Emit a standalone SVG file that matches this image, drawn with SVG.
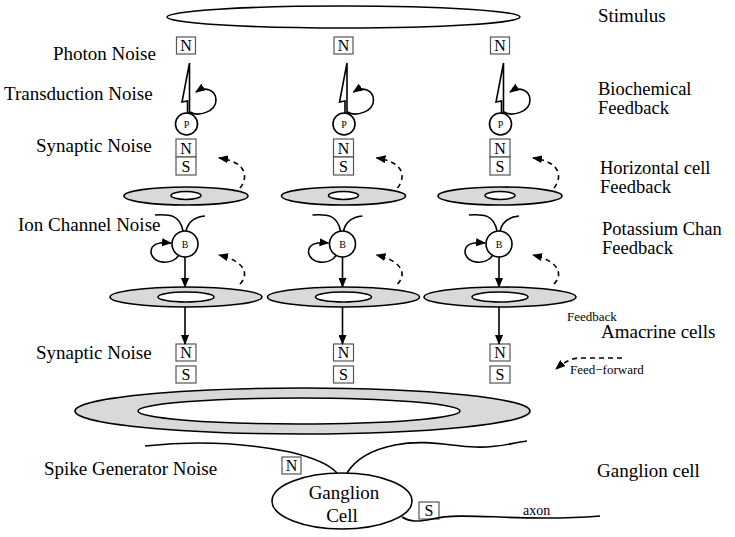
<svg xmlns="http://www.w3.org/2000/svg" width="735" height="537" viewBox="0 0 735 537">
<style>
.ln{fill:none;stroke:#000;stroke-width:1.6}
.dash{fill:none;stroke:#000;stroke-width:1.6;stroke-dasharray:5,4}
.ring{fill:#d9d9d9;stroke:#000;stroke-width:1.6}
.hole{fill:#fff;stroke:#000;stroke-width:1.6}
.box{fill:#fff;stroke:#555;stroke-width:1.2}
.cell{fill:#fff;stroke:#000;stroke-width:1.6}
.lbl{font-family:"Liberation Serif","Times New Roman",serif;font-size:19px;fill:#000}
.lbl2{font-family:"Liberation Serif","Times New Roman",serif;font-size:18.5px;fill:#000}
.sm{font-family:"Liberation Serif","Times New Roman",serif;font-size:13px;fill:#000}
.bx{font-family:"Liberation Serif","Times New Roman",serif;font-size:16px;fill:#000;text-anchor:middle}
.tiny{font-family:"Liberation Serif","Times New Roman",serif;font-size:10px;fill:#000;text-anchor:middle}
</style>
<defs>
<marker id="ah" markerUnits="userSpaceOnUse" markerWidth="10" markerHeight="8" refX="9" refY="4" orient="auto">
<path d="M0,0 L10,4 L0,8 Z" fill="#000"/>
</marker>
</defs>

<!-- Stimulus -->
<g id="stimulus"><ellipse cx="343.5" cy="17" rx="176.5" ry="11" class="cell"/></g>

<!-- Labels -->
<g id="labels">
<text class="lbl" x="53" y="60">Photon Noise</text>
<text class="lbl" x="4" y="100">Transduction Noise</text>
<text class="lbl" x="36" y="152">Synaptic Noise</text>
<text class="lbl" x="18" y="231">Ion Channel Noise</text>
<text class="lbl" x="36" y="359">Synaptic Noise</text>
<text class="lbl" x="44" y="475">Spike Generator Noise</text>
<text class="lbl" x="598" y="22">Stimulus</text>
<text class="lbl2" x="598" y="95">Biochemical</text>
<text class="lbl2" x="598" y="114">Feedback</text>
<text class="lbl2" x="600" y="174">Horizontal cell</text>
<text class="lbl2" x="600" y="193">Feedback</text>
<text class="lbl2" x="602" y="235">Potassium Chan</text>
<text class="lbl2" x="602" y="254">Feedback</text>
<text class="sm" x="567" y="321">Feedback</text>
<text class="lbl" x="601" y="338">Amacrine cells</text>
<text class="sm" x="570" y="374">Feed−forward</text>
<text class="lbl" x="597" y="477">Ganglion cell</text>
</g>

<!-- Column nodes -->
<g id="col1" transform="translate(186,0)">
<g id="n-photon-1"><rect class="box" x="-9.5" y="37" width="19" height="17"/><text class="bx" x="0" y="51">N</text></g>
<g id="cone-1"><path class="ln" d="M3.5,63 L-4,102 L1.5,101 L1.5,113 M3.5,63 L3.5,113"/></g>
<g id="p-1"><circle class="cell" cx="0.5" cy="124" r="11"/><text class="tiny" x="0.5" y="128">P</text></g>
<g id="ns-1"><rect class="box" x="-10" y="139" width="20" height="18"/><rect class="box" x="-10" y="157" width="20" height="18"/><text class="bx" x="0" y="154">N</text><text class="bx" x="0" y="172">S</text></g>
<g id="hcell-1"><ellipse class="ring" cx="0" cy="196" rx="62" ry="9"/><ellipse class="hole" cx="0" cy="195.5" rx="15" ry="4"/></g>
<g id="b-1"><circle class="cell" cx="-1" cy="244" r="13"/><text class="tiny" x="-1" y="248">B</text></g>
<g id="bring-1"><ellipse class="ring" cx="0" cy="297" rx="76" ry="10"/><ellipse class="hole" cx="0" cy="297" rx="28" ry="5"/></g>
<g id="ns2-1"><rect class="box" x="-10" y="344" width="20" height="17"/><rect class="box" x="-10" y="366" width="20" height="17"/><text class="bx" x="0" y="358">N</text><text class="bx" x="0" y="380">S</text></g>
</g>

<g id="col2" transform="translate(343.5,0)">
<g id="n-photon-2"><rect class="box" x="-9.5" y="37" width="19" height="17"/><text class="bx" x="0" y="51">N</text></g>
<g id="cone-2"><path class="ln" d="M3.5,63 L-4,102 L1.5,101 L1.5,113 M3.5,63 L3.5,113"/></g>
<g id="p-2"><circle class="cell" cx="0.5" cy="124" r="11"/><text class="tiny" x="0.5" y="128">P</text></g>
<g id="ns-2"><rect class="box" x="-10" y="139" width="20" height="18"/><rect class="box" x="-10" y="157" width="20" height="18"/><text class="bx" x="0" y="154">N</text><text class="bx" x="0" y="172">S</text></g>
<g id="hcell-2"><ellipse class="ring" cx="0" cy="196" rx="62" ry="9"/><ellipse class="hole" cx="0" cy="195.5" rx="15" ry="4"/></g>
<g id="b-2"><circle class="cell" cx="-1" cy="244" r="13"/><text class="tiny" x="-1" y="248">B</text></g>
<g id="bring-2"><ellipse class="ring" cx="0" cy="297" rx="76" ry="10"/><ellipse class="hole" cx="0" cy="297" rx="28" ry="5"/></g>
<g id="ns2-2"><rect class="box" x="-10" y="344" width="20" height="17"/><rect class="box" x="-10" y="366" width="20" height="17"/><text class="bx" x="0" y="358">N</text><text class="bx" x="0" y="380">S</text></g>
</g>

<g id="col3" transform="translate(500,0)">
<g id="n-photon-3"><rect class="box" x="-9.5" y="37" width="19" height="17"/><text class="bx" x="0" y="51">N</text></g>
<g id="cone-3"><path class="ln" d="M3.5,63 L-4,102 L1.5,101 L1.5,113 M3.5,63 L3.5,113"/></g>
<g id="p-3"><circle class="cell" cx="0.5" cy="124" r="11"/><text class="tiny" x="0.5" y="128">P</text></g>
<g id="ns-3"><rect class="box" x="-10" y="139" width="20" height="18"/><rect class="box" x="-10" y="157" width="20" height="18"/><text class="bx" x="0" y="154">N</text><text class="bx" x="0" y="172">S</text></g>
<g id="hcell-3"><ellipse class="ring" cx="0" cy="196" rx="62" ry="9"/><ellipse class="hole" cx="0" cy="195.5" rx="15" ry="4"/></g>
<g id="b-3"><circle class="cell" cx="-1" cy="244" r="13"/><text class="tiny" x="-1" y="248">B</text></g>
<g id="bring-3"><ellipse class="ring" cx="0" cy="297" rx="76" ry="10"/><ellipse class="hole" cx="0" cy="297" rx="28" ry="5"/></g>
<g id="ns2-3"><rect class="box" x="-10" y="344" width="20" height="17"/><rect class="box" x="-10" y="366" width="20" height="17"/><text class="bx" x="0" y="358">N</text><text class="bx" x="0" y="380">S</text></g>
</g>

<!-- Amacrine ring -->
<g id="amacrine"><ellipse class="ring" cx="302.5" cy="411" rx="227.5" ry="23"/><ellipse class="hole" cx="299" cy="411" rx="161" ry="13"/></g>

<!-- Ganglion -->
<g id="ganglion">
<ellipse class="cell" cx="342" cy="501" rx="70" ry="28"/>
<text class="lbl" x="344" y="499" text-anchor="middle">Ganglion</text>
<text class="lbl" x="342" y="522" text-anchor="middle">Cell</text>
</g>
<g id="n-spike"><rect class="box" x="282" y="457" width="19" height="17"/><text class="bx" x="291.5" y="471">N</text></g>
<g id="s-axon"><rect class="box" x="419" y="502" width="20" height="17"/><text class="bx" x="429" y="516">S</text></g>
<text class="sm" x="523" y="515" style="font-size:14px">axon</text>

<!-- Connectors -->
<g id="connectors">
<g transform="translate(186,0)">
<path class="ln" d="M4,112 C12,117 30,112 30,100 C30,90 19,86 10,92" marker-end="url(#ah)"/>
<path class="dash" d="M54,188 C62,178 62,162 33,158" marker-end="url(#ah)"/>
<path class="ln" d="M-31,215 C-16,214 -6,215 -3,231 M0,231 C2,222 9,217 19,216"/>
<path class="ln" d="M-7,255 C-14,266 -34,264 -35,252 C-35,244 -28,242 -15,243" marker-end="url(#ah)"/>
<path class="ln" d="M-1,257 L-1,287" marker-end="url(#ah)"/>
<path class="dash" d="M54,284 C62,276 62,262 33,255" marker-end="url(#ah)"/>
<path class="ln" d="M-1,307 L-1,344" marker-end="url(#ah)"/>
</g>
<g transform="translate(343.5,0)">
<path class="ln" d="M4,112 C12,117 30,112 30,100 C30,90 19,86 10,92" marker-end="url(#ah)"/>
<path class="dash" d="M54,188 C62,178 62,162 33,158" marker-end="url(#ah)"/>
<path class="ln" d="M-31,215 C-16,214 -6,215 -3,231 M0,231 C2,222 9,217 19,216"/>
<path class="ln" d="M-7,255 C-14,266 -34,264 -35,252 C-35,244 -28,242 -15,243" marker-end="url(#ah)"/>
<path class="ln" d="M-1,257 L-1,287" marker-end="url(#ah)"/>
<path class="dash" d="M54,284 C62,276 62,262 33,255" marker-end="url(#ah)"/>
<path class="ln" d="M-1,307 L-1,344" marker-end="url(#ah)"/>
</g>
<g transform="translate(500,0)">
<path class="ln" d="M4,112 C12,117 30,112 30,100 C30,90 19,86 10,92" marker-end="url(#ah)"/>
<path class="dash" d="M54,188 C62,178 62,162 33,158" marker-end="url(#ah)"/>
<path class="ln" d="M-31,215 C-16,214 -6,215 -3,231 M0,231 C2,222 9,217 19,216"/>
<path class="ln" d="M-7,255 C-14,266 -34,264 -35,252 C-35,244 -28,242 -15,243" marker-end="url(#ah)"/>
<path class="ln" d="M-1,257 L-1,287" marker-end="url(#ah)"/>
<path class="dash" d="M54,284 C62,276 62,262 33,255" marker-end="url(#ah)"/>
<path class="ln" d="M-1,307 L-1,344" marker-end="url(#ah)"/>
</g>
<!-- ganglion dendrites and axon -->
<path class="ln" d="M145,446 C200,440 250,444 290,452 C315,458 330,465 337,473"/>
<path class="ln" d="M347,473 C355,460 370,450 395,445 C425,439 450,446 475,447 C500,448 510,443 527,441"/>
<path class="ln" d="M402,517 C410,522 418,522 432,519 C450,515 470,516 500,517 C545,519 575,518 600,516"/>
<!-- legend -->
<path class="dash" d="M622,358 L578,358 C570,359 563,363 556,369" marker-end="url(#ah)"/>
</g>
</svg>
